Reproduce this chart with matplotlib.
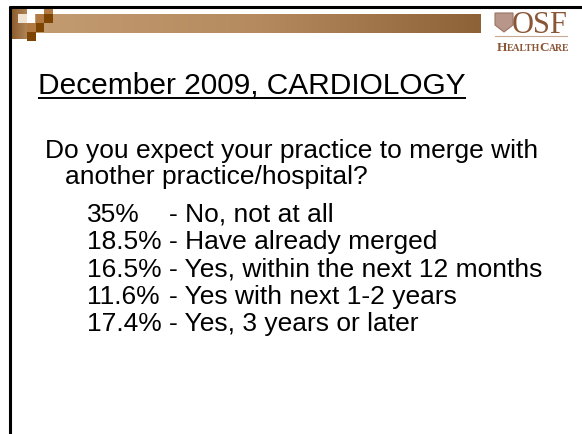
import matplotlib
matplotlib.use("Agg")
import matplotlib.pyplot as plt
import numpy as np
from matplotlib.patches import Rectangle, Polygon
from matplotlib.colors import LinearSegmentedColormap

# ---- content ----
title = "December 2009, CARDIOLOGY"
question = ["Do you expect your practice to merge with", "another practice/hospital?"]
percents = ["35%", "18.5%", "16.5%", "11.6%", "17.4%"]
answers = ["No, not at all", "Have already merged", "Yes, within the next 12 months",
           "Yes with next 1-2 years", "Yes, 3 years or later"]

W, H = 582, 435
fig = plt.figure(figsize=(W / 100, H / 100), dpi=100)
ax = fig.add_axes([0, 0, 1, 1])
ax.set_xlim(0, W)
ax.set_ylim(H, 0)
ax.axis("off")

SANS = ["Liberation Sans", "DejaVu Sans"]
SERIF = ["Liberation Serif", "DejaVu Serif"]

# ---- decorative header ----
grad = np.linspace(0, 1, 256).reshape(1, -1)
cmap_bar = LinearSegmentedColormap.from_list("bar", ["#c49c72", "#b48a5e", "#8c6236"])
ax.imshow(grad, extent=[35, 481, 34, 15], cmap=cmap_bar, aspect="auto", zorder=1)
cmap_sq = LinearSegmentedColormap.from_list("sq", ["#8a5a2c", "#b08458"])
ax.imshow(grad, extent=[11, 27, 40, 9], cmap=cmap_sq, aspect="auto", zorder=2)
light = "#f0e2d0"
med = "#b07a42"
dark = "#7e4404"
squares = [
    (18, 15, 9, 9, light),
    (27, 24, 9, 9, med),
    (27, 33, 9, 9, dark),
    (36, 24, 8, 9, dark),
    (36, 15, 8, 9, med),
    (44, 9, 9, 6, med),
    (44, 15, 9, 9, dark),
]
for x, y, w, h, c in squares:
    ax.add_patch(Rectangle((x, y), w, h, facecolor=c, edgecolor="none", zorder=3))

ax.plot([9, W], [8, 8], color="black", lw=2.2, solid_capstyle="butt", zorder=4)
ax.plot([10, 10], [7, H], color="black", lw=2.2, solid_capstyle="butt", zorder=4)

# ---- logo ----
logo_c = "#8a5636"
shield = Polygon([[495, 14], [513, 14], [513, 26], [504, 33], [495, 26]], closed=True,
                 facecolor="#b8968a", edgecolor="#9a7466", lw=0.8, zorder=3)
ax.add_patch(shield)
ax.text(512, 33, "OSF", fontsize=22, family=SERIF, color=logo_c, va="baseline", ha="left", zorder=5)
ax.plot([495, 567], [37, 37], color="#c9a994", lw=0.8, zorder=4)

fig.canvas.draw()
r = fig.canvas.get_renderer()
inv = ax.transData.inverted()

def piece(x, y, s, size, **kw):
    t = ax.text(x, y, s, fontsize=size, va="baseline", ha="left", **kw)
    bb = t.get_window_extent(renderer=r)
    return t, inv.transform((bb.x1, bb.y0))[0]

x = 497
for s, sz in [("H", 9.5), ("EALTH", 7), ("C", 9.5), ("ARE", 7)]:
    _, x = piece(x, 51, s, sz, family=SERIF, color=logo_c, fontweight="bold")
    x -= 0.5

# ---- slide text ----
TITLE = 21.5
t, x_end = piece(38, 94.5, title, TITLE, family=SANS, color="black")
ax.plot([38, x_end], [98.5, 98.5], color="black", lw=1.4, solid_capstyle="butt")

BODY = 19
ax.text(45, 158, question[0], fontsize=BODY, family=SANS, color="black", va="baseline")
ax.text(65, 184, question[1], fontsize=BODY, family=SANS, color="black", va="baseline")

# description column starts after the widest percentage
m, mx = piece(87, 200, max(percents, key=len) + " ", BODY, family=SANS)
m.remove()
x_desc = mx
y0, dy = 222, 27.3
for i, (p, a) in enumerate(zip(percents, answers)):
    y = y0 + i * dy
    ax.text(87, y, p, fontsize=BODY, family=SANS, color="black", va="baseline")
    ax.text(x_desc, y, "- " + a, fontsize=BODY, family=SANS, color="black", va="baseline")

fig.savefig("out.png", dpi=100, facecolor="white")
